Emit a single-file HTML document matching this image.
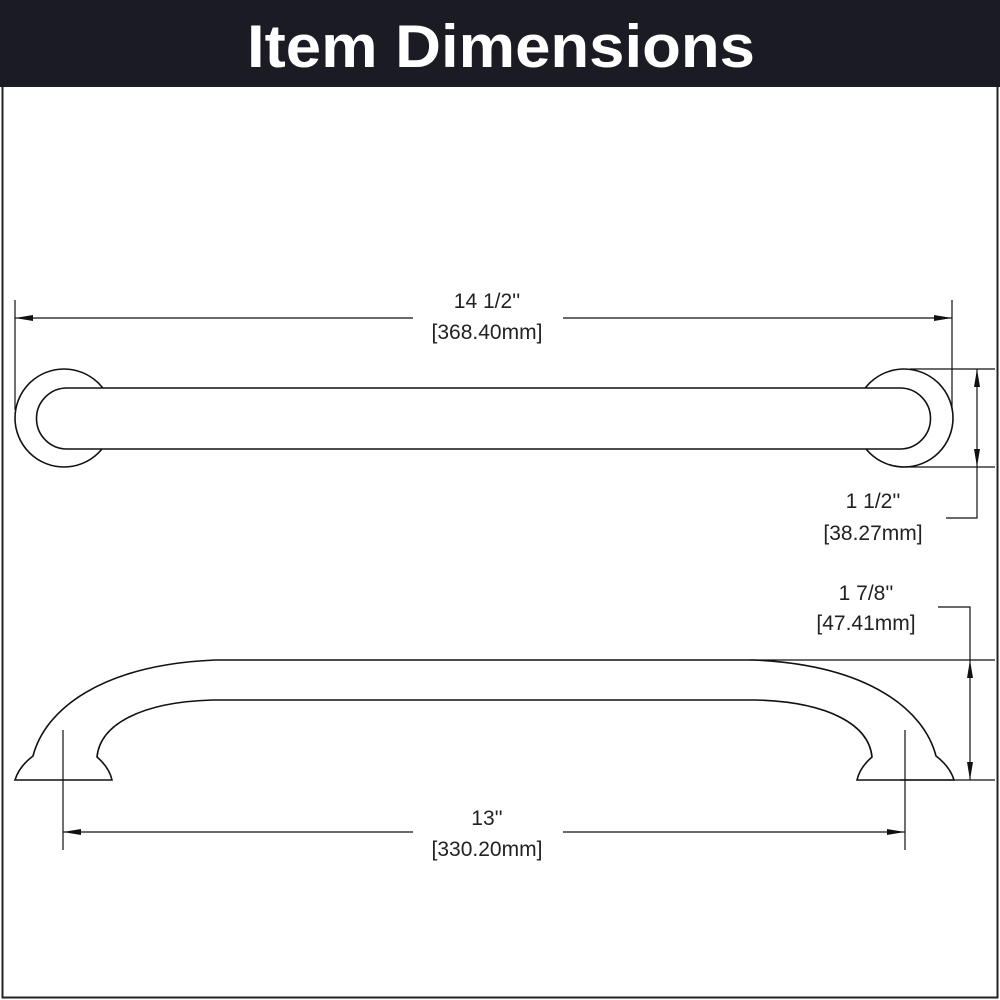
<!DOCTYPE html>
<html><head><meta charset="utf-8"><style>
html,body{margin:0;padding:0;background:#fff;}
svg{display:block;}
text{font-family:"Liberation Sans",sans-serif;}
</style></head><body>
<svg width="1000" height="1000" viewBox="0 0 1000 1000" xmlns="http://www.w3.org/2000/svg">
<rect x="0" y="0" width="1000" height="1000" fill="#fff"/>
<rect x="0" y="0" width="1000" height="87" fill="#1b1b24"/>
<text x="501" y="67" font-size="60" font-weight="bold" fill="#fff" text-anchor="middle" textLength="508" lengthAdjust="spacingAndGlyphs">Item Dimensions</text>
<path d="M2.5,87 V997.5 H997.5 V87" fill="none" stroke="#222" stroke-width="2"/>
<g stroke="#111" stroke-width="1.6" fill="none">
<circle cx="64" cy="418" r="49" fill="#fff"/>
<circle cx="904" cy="418" r="49" fill="#fff"/>
<path d="M67,388 H900 A30.5,30.5 0 0 1 900,449 H67 A30.5,30.5 0 0 1 67,388 Z" fill="#fff"/>
<line x1="15" y1="300" x2="15" y2="410" stroke-width="1.2"/>
<line x1="952" y1="300" x2="952" y2="410" stroke-width="1.2"/>
<line x1="15" y1="318" x2="413" y2="318" stroke-width="1.2"/>
<line x1="563" y1="318" x2="952" y2="318" stroke-width="1.2"/>
<line x1="910" y1="369" x2="995" y2="369" stroke-width="1.2"/>
<line x1="900" y1="467" x2="995" y2="467" stroke-width="1.2"/>
<polyline points="977,369 977,518 946,518" stroke-width="1.2"/>
<path d="M15,780 L112,780 C110,771 104,763 97,757 C100,725 140,702 213,700 L756,700 C829,702 869,725 872,757 C865,763 859,771 857,780 L954,780 C951,770 944,762 936,756 C924,710 869,665 754,660 L215,660 C100,665 45,710 33,756 C25,762 18,770 15,780 Z" fill="#fff"/>
<line x1="750" y1="660" x2="995" y2="660" stroke-width="1.2"/>
<line x1="900" y1="780" x2="995" y2="780" stroke-width="1.2"/>
<polyline points="970,660 970,607 938,607" stroke-width="1.2"/>
<line x1="970" y1="660" x2="970" y2="780" stroke-width="1.2"/>
<line x1="63" y1="730" x2="63" y2="850" stroke-width="1.2"/>
<line x1="905" y1="730" x2="905" y2="850" stroke-width="1.2"/>
<line x1="63" y1="832" x2="413" y2="832" stroke-width="1.2"/>
<line x1="563" y1="832" x2="905" y2="832" stroke-width="1.2"/>
</g>
<g fill="#111">
<polygon points="15,318 33,315 33,321"/>
<polygon points="952,318 934,315 934,321"/>
<polygon points="977,369 974,387 980,387"/>
<polygon points="977,467 974,449 980,449"/>
<polygon points="970,660 967,678 973,678"/>
<polygon points="970,780 967,762 973,762"/>
<polygon points="63,832 81,829 81,835"/>
<polygon points="905,832 887,829 887,835"/>
</g>
<g font-size="21" fill="#222" text-anchor="middle">
<text x="487" y="308">14 1/2''</text>
<text x="487" y="339">[368.40mm]</text>
<text x="873" y="508">1 1/2''</text>
<text x="873" y="540">[38.27mm]</text>
<text x="866" y="600">1 7/8''</text>
<text x="866" y="630">[47.41mm]</text>
<text x="487" y="825">13''</text>
<text x="487" y="856">[330.20mm]</text>
</g>
</svg>
</body></html>
